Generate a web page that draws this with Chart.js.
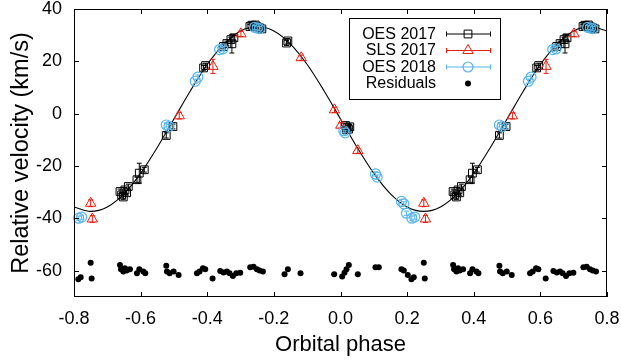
<!DOCTYPE html>
<html><head><meta charset="utf-8">
<script src="https://cdn.jsdelivr.net/npm/chart.js@4.4.1/dist/chart.umd.min.js"></script>
<style>html,body{margin:0;padding:0;background:#fff;}#wrap{width:621px;height:362px;}</style>
</head><body><div id="wrap"><canvas id="c" width="621" height="362"></canvas></div>
<script>
// ---- axis ticks / labels ----
const xTicks = [-0.8, -0.6, -0.4, -0.2, 0.0, 0.2, 0.4, 0.6, 0.8];
const yTicks = [40, 20, 0, -20, -40, -60];
const seriesNames = ['OES 2017', 'SLS 2017', 'OES 2018', 'Residuals'];

// ---- model curve ----
const modelPhase = [-0.80,-0.75,-0.70,-0.65,-0.60,-0.55,-0.50,-0.45,-0.40,-0.35,-0.30,-0.25,-0.20,-0.15,-0.10,-0.05,
  0.00,0.05,0.10,0.15,0.20,0.25,0.30,0.35,0.40,0.45,0.50,0.55,0.60,0.65,0.70,0.75,0.80];
const modelVel = [-35.6,-37.3,-35.6,-30.6,-22.8,-12.9,-2.0,8.9,18.8,26.6,31.6,33.3,31.6,26.6,18.8,8.9,
  -2.0,-12.9,-22.8,-30.6,-35.6,-37.3,-35.6,-30.6,-22.8,-12.9,-2.0,8.9,18.8,26.6,31.6,33.3,31.6];

// ---- OES 2017 (one orbital cycle, phase -0.8..0.2) ----
const oes17Phase = [-0.662,-0.657,-0.652,-0.647,-0.642,-0.637,-0.611,-0.604,-0.589,-0.523,-0.503,-0.411,-0.405,
  -0.351,-0.341,-0.329,-0.326,-0.320,-0.272,-0.266,-0.261,-0.256,-0.250,-0.243,-0.236,-0.162,-0.158,
  0.015,0.020,0.024,0.028,0.018];
const oes17Vel = [-29.7,-31.0,-31.8,-29.1,-30.2,-27.8,-25.2,-22.7,-21.4,-8.3,-4.9,17.5,18.4,
  25.7,26.8,28.3,26.7,29.0,33.3,33.8,33.5,33.9,33.2,32.8,32.4,27.0,27.8,
  -4.5,-5.3,-5.9,-5.0,-6.1];
const oes17Err = [0.9,0.9,0.9,0.9,0.9,0.9,1.0,3.8,0.9,1.0,0.9,0.9,0.9,
  0.9,0.9,0.9,3.5,0.9,0.8,0.8,0.8,0.8,0.8,0.8,0.8,0.9,0.9,
  0.9,0.9,0.9,0.9,0.9];

// ---- SLS 2017 ----
const sls17Phase = [-0.750,-0.745,-0.484,-0.383,-0.299,-0.118,-0.018,0.001,0.052];
const sls17Vel = [-34.2,-40.2,-0.8,18.1,30.5,21.4,1.5,-4.4,-14.1];
const sls17Err = [1.3,1.3,1.2,2.7,1.0,1.0,1.0,1.0,1.0];

// ---- OES 2018 ----
const oes18Phase = [-0.786,-0.777,-0.523,-0.515,-0.436,-0.428,-0.363,-0.353,-0.258,-0.250,-0.243,
  0.010,0.014,0.105,0.110,0.183,0.190,0.198];
const oes18Vel = [-39.9,-39.5,-4.3,-4.9,12.4,14.0,24.5,24.8,33.0,32.7,32.5,
  -6.5,-7.3,-23.0,-24.2,-33.5,-34.4,-38.0];
const oes18Err = [0.8,0.8,0.8,0.8,0.8,0.8,0.8,0.8,0.8,0.8,0.8,
  0.8,0.8,0.8,0.8,0.8,0.8,0.8];

// ---- Residuals (shifted to -60) ----
const resPhase = [-0.787,-0.780,-0.750,-0.747,-0.662,-0.659,-0.652,-0.647,-0.642,-0.632,-0.611,-0.604,-0.592,-0.586,
  -0.523,-0.521,-0.513,-0.501,-0.486,-0.431,-0.423,-0.413,-0.406,-0.384,-0.361,-0.351,-0.341,-0.333,-0.323,-0.313,-0.301,
  -0.271,-0.261,-0.251,-0.243,-0.233,-0.168,-0.158,-0.120,-0.019,0.005,0.012,0.018,0.025,0.052,0.105,0.115,0.183,0.190,0.202];
const resVel = [-63.2,-62.5,-56.9,-62.9,-57.8,-59.4,-60.3,-59.0,-59.9,-59.4,-60.9,-59.4,-60.3,-60.9,
  -58.1,-60.3,-60.9,-60.3,-61.6,-60.9,-60.3,-59.0,-59.4,-62.9,-60.1,-60.6,-60.3,-60.9,-62.0,-60.9,-60.7,
  -58.6,-58.4,-59.4,-59.9,-60.3,-61.3,-59.4,-60.9,-61.3,-62.2,-60.7,-59.4,-57.8,-61.3,-58.6,-58.6,-59.4,-59.9,-61.6];

// phases below -0.2 are repeated one cycle later (phase + 1), as in the plot
function unfold(ph, v, e) {
  const pts = [], errs = [];
  for (let i = 0; i < ph.length; i++) {
    pts.push({x: ph[i], y: v[i]}); errs.push(e ? e[i] : 0);
    if (ph[i] < -0.2) { pts.push({x: +(ph[i] + 1).toFixed(3), y: v[i]}); errs.push(e ? e[i] : 0); }
  }
  return {pts, errs};
}

const FONT = "'Liberation Sans', Arial, Helvetica, sans-serif";
const RED = '#e51e10', BLUE = '#56b4e9';

const d1 = unfold(oes17Phase, oes17Vel, oes17Err);
const d2 = unfold(sls17Phase, sls17Vel, sls17Err);
const d3 = unfold(oes18Phase, oes18Vel, oes18Err);
const d4 = unfold(resPhase, resVel, null);

const datasets = [
  {label: 'model', data: modelPhase.map((p, i) => ({x: p, y: modelVel[i]})), showLine: true,
   borderColor: '#000', borderWidth: 1.1, pointRadius: 0, cubicInterpolationMode: 'monotone', order: 5},
  {label: seriesNames[0], data: d1.pts, errs: d1.errs, pointStyle: 'rect', pointRadius: 5.5,
   borderColor: '#000', backgroundColor: 'rgba(0,0,0,0)', borderWidth: 1, order: 4, clip: false},
  {label: seriesNames[1], data: d2.pts, errs: d2.errs, pointStyle: 'triangle', pointRadius: 6,
   borderColor: RED, backgroundColor: 'rgba(0,0,0,0)', borderWidth: 1, order: 3, clip: false},
  {label: seriesNames[2], data: d3.pts, errs: d3.errs, pointStyle: 'circle', pointRadius: 5,
   borderColor: BLUE, backgroundColor: 'rgba(0,0,0,0)', borderWidth: 1.2, order: 2, clip: false},
  {label: seriesNames[3], data: d4.pts, pointStyle: 'circle', pointRadius: 3,
   borderColor: '#000', backgroundColor: '#000', borderWidth: 0, order: 1, clip: false}
];

const errorBars = {
  id: 'errorBars',
  afterDatasetDraw(chart, args) {
    const ds = chart.data.datasets[args.index];
    if (!ds.errs) return;
    const ctx = chart.ctx, ys = chart.scales.y;
    ctx.save();
    ctx.strokeStyle = ds.borderColor; ctx.lineWidth = 1;
    args.meta.data.forEach((el, i) => {
      const e = ds.errs[i]; if (!e) return;
      const v = ds.data[i].y;
      const t = ys.getPixelForValue(v + e), b = ys.getPixelForValue(v - e), x = el.x;
      ctx.beginPath();
      ctx.moveTo(x, t); ctx.lineTo(x, b);
      ctx.moveTo(x - 2.5, t); ctx.lineTo(x + 2.5, t);
      ctx.moveTo(x - 2.5, b); ctx.lineTo(x + 2.5, b);
      ctx.stroke();
    });
    ctx.restore();
  }
};

const frame = {
  id: 'frame',
  afterDatasetsDraw(chart) {
    const {ctx, chartArea: a, scales: {x, y}} = chart;
    ctx.save();
    ctx.strokeStyle = '#000'; ctx.lineWidth = 1;
    ctx.strokeRect(a.left + 0.5, a.top + 0.5, a.right - a.left - 1, a.bottom - a.top - 1);
    ctx.beginPath();
    xTicks.forEach(v => {
      const px = Math.round(x.getPixelForValue(v)) + 0.5;
      ctx.moveTo(px, a.bottom); ctx.lineTo(px, a.bottom - 5);
      ctx.moveTo(px, a.top); ctx.lineTo(px, a.top + 5);
    });
    yTicks.forEach(v => {
      const py = Math.round(y.getPixelForValue(v)) + 0.5;
      ctx.moveTo(a.left, py); ctx.lineTo(a.left + 5, py);
      ctx.moveTo(a.right, py); ctx.lineTo(a.right - 5, py);
    });
    ctx.stroke();
    ctx.restore();
  }
};

const legendBox = {
  id: 'legendBox',
  afterDraw(chart) {
    const ctx = chart.ctx;
    ctx.save();
    ctx.fillStyle = '#fff';
    ctx.fillRect(349.5, 18.5, 151, 81);
    ctx.strokeStyle = '#000'; ctx.lineWidth = 1;
    ctx.strokeRect(349.5, 18.5, 151, 81);
    ctx.font = '16px ' + FONT;
    ctx.textAlign = 'right'; ctx.textBaseline = 'middle';
    const rows = [33.5, 50, 66.5, 83];
    [1, 2, 3, 4].forEach((di, r) => {
      const ds = chart.data.datasets[di];
      const y = rows[r];
      ctx.fillStyle = '#000';
      ctx.fillText(ds.label, 436, y + 1);
      if (ds.errs) {
        ctx.strokeStyle = ds.borderColor; ctx.lineWidth = 1;
        ctx.beginPath();
        ctx.moveTo(446, y + 0.5); ctx.lineTo(491, y + 0.5);
        ctx.moveTo(446.5, y - 2); ctx.lineTo(446.5, y + 3);
        ctx.moveTo(490.5, y - 2); ctx.lineTo(490.5, y + 3);
        ctx.stroke();
      }
      ctx.fillStyle = ds.backgroundColor; ctx.strokeStyle = ds.borderColor; ctx.lineWidth = ds.borderWidth;
      Chart.helpers.drawPoint(ctx, {pointStyle: ds.pointStyle, radius: ds.pointRadius, borderWidth: ds.borderWidth, rotation: 0}, 468, y + 0.5);
    });
    ctx.restore();
  }
};

new Chart(document.getElementById('c'), {
  type: 'scatter',
  data: {datasets},
  options: {
    responsive: false, animation: false, devicePixelRatio: 1,
    layout: {padding: {top: 9, right: 14, left: 0, bottom: 0}},
    plugins: {legend: {display: false}, tooltip: {enabled: false}},
    scales: {
      x: {
        type: 'linear', min: -0.8, max: 0.8,
        afterBuildTicks: s => { s.ticks = xTicks.map(v => ({value: v})); },
        afterFit: s => { s.height = 65; s.paddingLeft = 0; s.paddingRight = 0; },
        grid: {display: false, drawTicks: false}, border: {display: false},
        ticks: {color: '#000', font: {family: FONT, size: 18}, padding: 11,
          callback: v => (Math.abs(v) < 1e-9 ? 0 : v).toFixed(1)},
        title: {display: true, text: 'Orbital phase', color: '#000', font: {family: FONT, size: 22}, padding: {top: 0, bottom: 4}}
      },
      y: {
        type: 'linear', min: -70, max: 40,
        afterBuildTicks: s => { s.ticks = yTicks.map(v => ({value: v})); },
        afterFit: s => { s.width = 74; s.paddingTop = 0; s.paddingBottom = 0; },
        grid: {display: false, drawTicks: false}, border: {display: false},
        ticks: {color: '#000', font: {family: FONT, size: 18}, padding: 12},
        title: {display: true, text: 'Relative velocity (km/s)', color: '#000', font: {family: FONT, size: 23.5}, padding: {top: 7, bottom: 0}}
      }
    }
  },
  plugins: [errorBars, frame, legendBox]
});
</script>
</body></html>
